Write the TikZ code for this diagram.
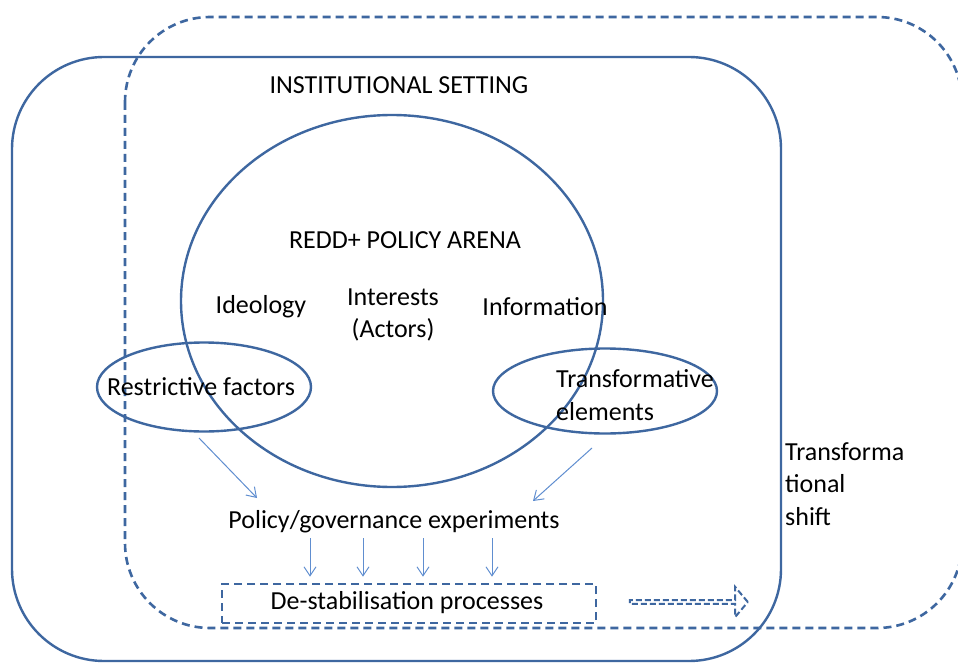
\documentclass[tikz,border=0pt]{standalone}
\usepackage{fontspec}
\setmainfont{Carlito}
\usetikzlibrary{shapes.geometric, shapes.arrows, arrows.meta, positioning}
\definecolor{frameblue}{RGB}{62,103,160}
\definecolor{arrowblue}{RGB}{96,142,208}

\tikzset{
    frame/.style={draw=frameblue, line width=2.4pt},
    dashframe/.style={draw=frameblue, line width=2.6pt, dash pattern=on 8pt off 5pt},
    oval/.style={ellipse, frame, inner sep=0pt},
    thinarrow/.style={draw=arrowblue, line width=1pt, -{Straight Barb[length=9pt, width=12pt]}},
    txt/.style={inner sep=0pt, font=\fontsize{26}{32.5}\selectfont},
}

\begin{document}
\begin{tikzpicture}[x=1pt, y=-1pt]
    \clip (0,0) rectangle (958,663);
    \fill[white] (0,0) rectangle (958,663);
    % outer frames
    \draw[dashframe, rounded corners=85pt] (125,17) rectangle (962,628);
    \draw[frame, rounded corners=92pt] (12,57) rectangle (781,661);
    \node[txt] (inst) at (399,85) {INSTITUTIONAL SETTING};
    % policy arena
    \node[oval, minimum width=422pt, minimum height=372pt] (arena) at (392,301) {};
    \node[txt] (redd) at (405,240) {REDD+ POLICY ARENA};
    \node[txt] (ideo) at (261,307) {Ideology};
    \node[txt, align=center] (inter) at (393,315) {Interests\\(Actors)};
    \node[txt] (info) at (545,307) {Information};
    \node[oval, minimum width=214pt, minimum height=89pt] (restr) at (204,387) {};
    \node[txt] at (201,387) {Restrictive factors};
    \node[oval, minimum width=224pt, minimum height=85pt] (transf) at (605,391) {};
    \node[txt, align=left, anchor=west] at (556,395) {Transformative\\elements};
    \node[txt, align=left, anchor=north west] (shift) at (785,442) {Transforma\\tional\\shift};
    % experiments
    \node[txt] (pge) at (394,522) {Policy/governance experiments};
    \node[dashframe, minimum width=374pt, minimum height=39pt, inner sep=0pt] (destab) at (409,603.5) {};
    \node[txt] at (407,603) {De-stabilisation processes};
    \node[single arrow, dashframe, line width=2pt, dash pattern=on 6pt off 3pt, inner sep=0pt,
          minimum width=30pt, minimum height=118pt, single arrow head extend=7pt,
          single arrow tip angle=100] (shiftarrow) at (688,602) {};
    % connectors
    \coordinate (ra) at (199,438);
    \coordinate (ta) at (592,448);
    \draw[thinarrow] (ra) -- (257,498);
    \draw[thinarrow] (ta) -- (533,501);
    \foreach \x in {310,363,423,492}
        \draw[thinarrow, shorten <=5pt, shorten >=6pt] (\x,0 |- pge.south) -- (\x,0 |- destab.north);
\end{tikzpicture}
\end{document}
